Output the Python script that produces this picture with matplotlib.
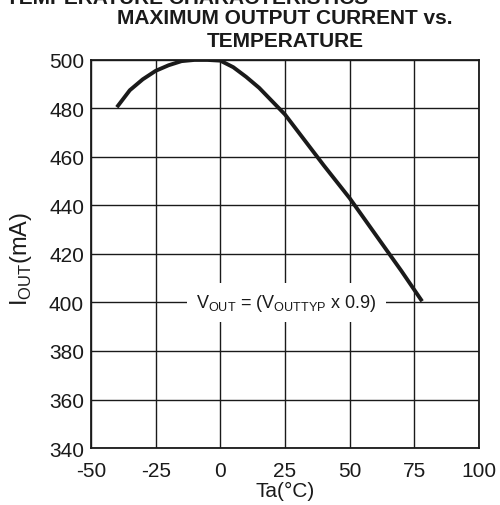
import numpy as np
import matplotlib.pyplot as plt

plt.rcParams['font.family'] = ['Liberation Sans', 'DejaVu Sans']
plt.rcParams['mathtext.fontset'] = 'custom'
plt.rcParams['mathtext.rm'] = 'Liberation Sans'
plt.rcParams['axes.unicode_minus'] = False

# temperature (degC) and maximum output current (mA)
temp = [-40, -35, -30, -25, -20, -15, -10, -5, 0, 5, 10, 15, 20, 25, 30, 40, 50, 60, 70, 78]
iout = [480.5, 487.5, 492.0, 495.5, 497.8, 499.5, 500.0, 500.0, 499.7, 497.0, 493.0,
        488.5, 483.0, 477.5, 470.5, 456.5, 443.0, 428.0, 413.0, 400.5]

xticks = [-50, -25, 0, 25, 50, 75, 100]
yticks = [340, 360, 380, 400, 420, 440, 460, 480, 500]

fig = plt.figure(figsize=(5.0, 5.06), dpi=100)
ax = fig.add_axes([0.182, 0.1126, 0.776, 0.767])

ax.plot(temp, iout, color='#1a1a1a', linewidth=2.8, solid_capstyle='butt', zorder=4)

ax.set_xlim(-50, 100)
ax.set_ylim(340, 500)
ax.set_xticks(xticks)
ax.set_yticks(yticks)
ax.tick_params(length=0, labelsize=15, colors='#1a1a1a')
ax.tick_params(axis='x', pad=9)
ax.tick_params(axis='y', pad=5)
ax.grid(True, color='#1a1a1a', linewidth=1.0)
for s in ax.spines.values():
    s.set_linewidth(1.3)
    s.set_color('#1a1a1a')

ax.set_xlabel('Ta(°C)', fontsize=15, labelpad=1, color='#1a1a1a')
ax.set_ylabel(r'I$_{\mathregular{OUT}}$(mA)', fontsize=17, color='#1a1a1a')
ax.yaxis.set_label_coords(-0.148, 0.49)

ax.text(25.5, 400, r'V$_{\mathregular{OUT}}$ = (V$_{\mathregular{OUTTYP}}$ x 0.9)',
        fontsize=13, ha='center', va='center', color='#1a1a1a', zorder=3,
        bbox=dict(boxstyle='square,pad=0.5', fc='white', ec='none'))

fig.text(0.57, 1 - 30 / 506, 'MAXIMUM OUTPUT CURRENT vs.\nTEMPERATURE', ha='center',
         va='center', fontsize=15, fontweight='bold', linespacing=1.25, color='#1a1a1a')
fig.text(368 / 500, 1 - 4 / 506, 'TEMPERATURE CHARACTERISTICS', ha='right', va='baseline',
         fontsize=15, fontweight='bold', color='#1a1a1a')

fig.savefig('out.png', dpi=100)
